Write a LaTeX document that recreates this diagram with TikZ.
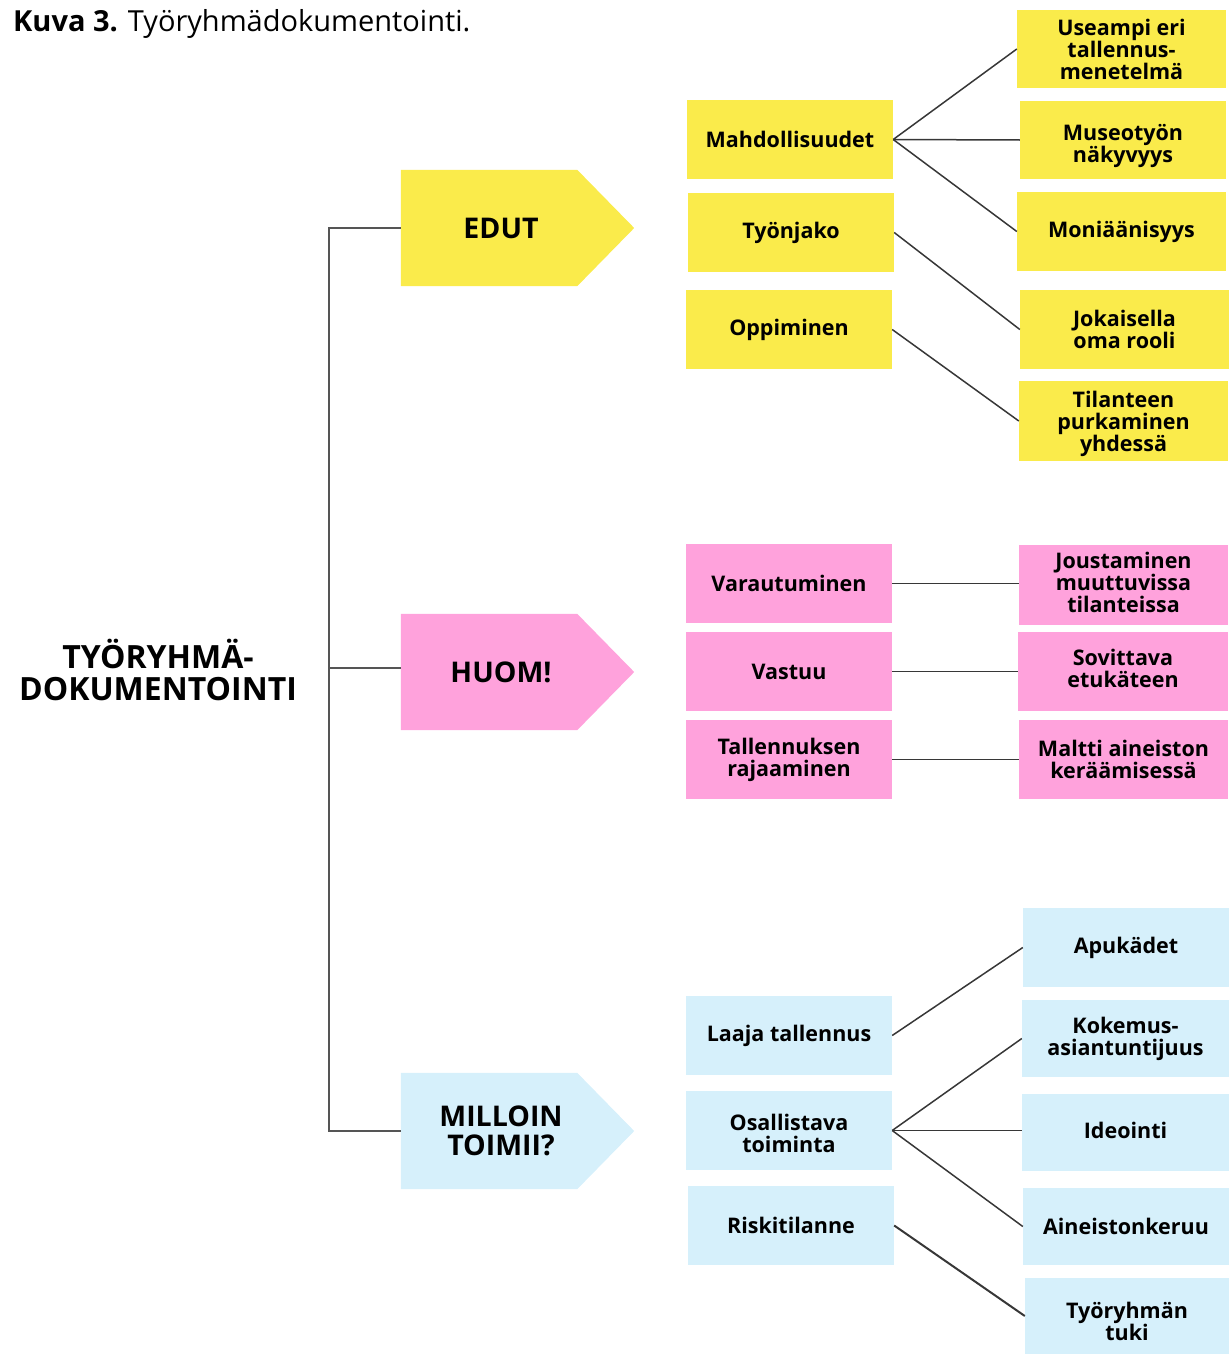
\documentclass[tikz,border=0pt]{standalone}
\usepackage{fontspec}
\setmainfont{Open Sans}
\begin{document}
\definecolor{ylw}{RGB}{250,235,75}
\definecolor{pnk}{RGB}{255,162,220}
\definecolor{sky}{RGB}{214,240,251}
\definecolor{linkgray}{RGB}{55,55,55}
\definecolor{brgray}{RGB}{85,85,85}
\tikzset{
  cellbox/.style={rectangle, inner sep=0pt},
  celltext/.style={inner sep=0pt, align=center,
    font=\fontsize{21.5}{22}\selectfont\bfseries},
  mainbox/.style={rectangle, inner sep=0pt, minimum width=233, minimum height=116},
  maintext/.style={inner sep=0pt, align=center, font=\fontsize{28.5}{29}\selectfont\bfseries},
  link/.style={draw=linkgray, line width=1.5pt},
  bracket/.style={draw=brgray, line width=1.5pt},
}
% box from its corners (x2,y2)-(x4,y4), in pixel units; optional #1 raises the text
\newcommand\diagcell[8][0]{%
  \node[cellbox, fill=#7, minimum width={#5-#3}, minimum height={#6-#4}]
    (#2) at ({(#3+#5)/2},{(#4+#6)/2}) {};
  \node[celltext] (#2-text) at ([yshift=#1pt]#2.center) {#8};}
% arrow-shaped heading box: rectangular body with a pointed right end
\newcommand\headbox[4]{%
  \node[mainbox] (#1) at (517.5,#2) {};
  \fill[#3] (#1.north west) -- ([xshift=-57pt]#1.north east) -- (#1.east)
    -- ([xshift=-57pt]#1.south east) -- (#1.south west) -- cycle;
  \node[maintext] (#1-label) at ([xshift=-16.5pt]#1.center) {#4};}
\begin{tikzpicture}[x=1pt,y=-1pt]
\useasboundingbox (0,0) rectangle (1229,1354);

% title
\node[anchor=base west, inner sep=0pt, font=\fontsize{29}{30}\selectfont]
  (title) at (13,31.5) {\textbf{Kuva 3.} Työryhmädokumentointi.};

% root
\node[inner sep=0pt, align=center, font=\fontsize{32}{32}\selectfont\bfseries]
  (root) at (158,670) {TYÖRYHMÄ-\\DOKUMENTOINTI};

% headings
\headbox{edut}{228}{ylw}{EDUT}
\headbox{huom}{672}{pnk}{HUOM!}
\headbox{milloin}{1131}{sky}{MILLOIN\\TOIMII?}

% bracket joining the headings
\draw[bracket] (edut.west) -- ++(-72,0) |- (milloin.west);
\draw[bracket] ([yshift=4pt]huom.west) -- ++(-72,0);

% middle column
\diagcell{mahd}{687}{100}{893}{179}{ylw}{Mahdollisuudet}
\diagcell{tyonjako}{688}{193}{894}{272}{ylw}{Työnjako}
\diagcell{oppiminen}{686}{290}{892}{369}{ylw}{Oppiminen}
\diagcell{varaut}{686}{544}{892}{623}{pnk}{Varautuminen}
\diagcell{vastuu}{686}{632}{892}{711}{pnk}{Vastuu}
\diagcell{rajaus}{686}{720}{892}{799}{pnk}{Tallennuksen\\rajaaminen}
\diagcell{laaja}{686}{996}{892}{1075}{sky}{Laaja tallennus}
\diagcell[-3]{osall}{686}{1091}{892}{1170}{sky}{Osallistava\\toiminta}
\diagcell{riski}{688}{1186}{894}{1265}{sky}{Riskitilanne}

% right column
\diagcell{useampi}{1017}{10}{1226}{88}{ylw}{Useampi eri\\tallennus-\\menetelmä}
\diagcell[-6]{museo}{1020}{101}{1226}{179}{ylw}{Museotyön\\näkyvyys}
\diagcell{moni}{1017}{192}{1226}{271}{ylw}{Moniäänisyys}
\diagcell{rooli}{1020}{290}{1229}{369}{ylw}{Jokaisella\\oma rooli}
\diagcell[-3]{purku}{1019}{381}{1228}{461}{ylw}{Tilanteen\\purkaminen\\yhdessä}
\diagcell[3]{jousto}{1019}{545}{1228}{625}{pnk}{Joustaminen\\muuttuvissa\\tilanteissa}
\diagcell[3]{sovittava}{1018}{632}{1228}{711}{pnk}{Sovittava\\etukäteen}
\diagcell{maltti}{1019}{720}{1228}{799}{pnk}{Maltti aineiston\\keräämisessä}
\diagcell{apu}{1023}{908}{1229}{987}{sky}{Apukädet}
\diagcell{kokemus}{1022}{1000}{1229}{1077}{sky}{Kokemus-\\asiantuntijuus}
\diagcell[2]{ideointi}{1022}{1094}{1229}{1171}{sky}{Ideointi}
\diagcell{keruu}{1023}{1188}{1229}{1265}{sky}{Aineistonkeruu}
\diagcell[-5]{tuki}{1025}{1278}{1229}{1354}{sky}{Työryhmän\\tuki}

% connectors
\draw[link] (mahd.east) -- (useampi.west);
\draw[link] (mahd.east) -- (museo.west);
\draw[link] (mahd.east) -- (moni.west);
\draw[link] (tyonjako.east) -- (rooli.west);
\draw[link] (oppiminen.east) -- (purku.west);
\draw[link] (varaut.east) -- (varaut.east -| jousto.west);
\draw[link] (vastuu.east) -- (vastuu.east -| sovittava.west);
\draw[link] (rajaus.east) -- (rajaus.east -| maltti.west);
\draw[link] (laaja.east) -- (apu.west);
\draw[link] (osall.east) -- (kokemus.west);
\draw[link] (osall.east) -- (osall.east -| ideointi.west);
\draw[link] (osall.east) -- (keruu.west);
\draw[link, line width=2pt] (riski.east) -- (tuki.west);
\end{tikzpicture}
\end{document}
